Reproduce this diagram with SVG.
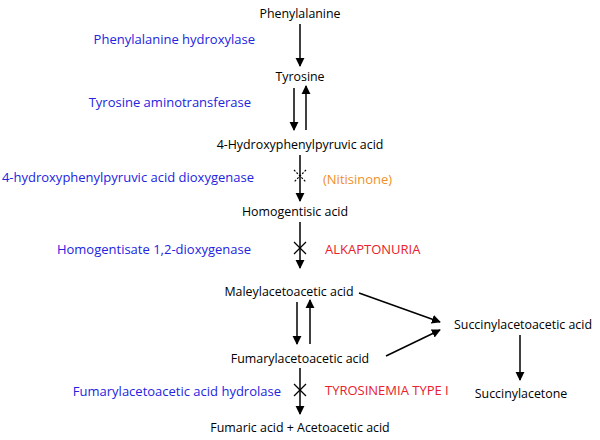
<svg xmlns="http://www.w3.org/2000/svg" width="600" height="440" viewBox="0 0 600 440">
<style>
text{font-family:"Open Sans","Liberation Sans",sans-serif;font-size:13px;fill:#000}
.c{text-anchor:middle;font-size:12.4px}
.e{fill:#2323e0;text-anchor:end}
.r{fill:#e8212b}
.o{fill:#f0902a}
.a{stroke:#000;stroke-width:1.5;fill:none;marker-end:url(#m)}
.x{stroke:#000;stroke-width:1.2}
</style>
<defs><marker id="m" viewBox="0 0 10 10" refX="9" refY="5" markerWidth="6" markerHeight="7" orient="auto" markerUnits="strokeWidth"><path d="M0,0L10,5L0,10z" fill="#000"/></marker></defs>
<rect width="600" height="440" fill="#fff"/>
<g id="connectors">
<line class="a" x1="300" y1="24" x2="300" y2="66"/>
<line class="a" x1="294" y1="88" x2="294" y2="130"/>
<line class="a" x1="306" y1="130" x2="306" y2="86"/>
<line class="a" x1="300" y1="155" x2="300" y2="201"/>
<line class="a" x1="300" y1="222" x2="300" y2="268"/>
<line class="a" x1="297" y1="302" x2="297" y2="344"/>
<line class="a" x1="310" y1="344" x2="310" y2="300"/>
<line class="a" x1="300" y1="368" x2="300" y2="414"/>
<line class="a" x1="359" y1="293" x2="440" y2="322"/>
<line class="a" x1="386" y1="356" x2="440" y2="330"/>
<line class="a" x1="520" y1="335" x2="520" y2="380"/>
<g class="x" stroke-dasharray="2,1.5"><line x1="294" y1="170" x2="306" y2="182"/><line x1="306" y1="170" x2="294" y2="182"/></g>
<g class="x"><line x1="294" y1="242" x2="306" y2="254"/><line x1="306" y1="242" x2="294" y2="254"/></g>
<g class="x"><line x1="294" y1="384" x2="306" y2="396"/><line x1="306" y1="384" x2="294" y2="396"/></g>
</g>
<g id="phe"><text class="c" x="300" y="18">Phenylalanine</text></g>
<g id="tyr"><text class="c" x="300" y="81">Tyrosine</text></g>
<g id="hpp"><text class="c" x="300" y="149">4-Hydroxyphenylpyruvic acid</text></g>
<g id="hga"><text class="c" x="295" y="216">Homogentisic acid</text></g>
<g id="maa"><text class="c" x="289" y="296">Maleylacetoacetic acid</text></g>
<g id="faa"><text class="c" x="300" y="363">Fumarylacetoacetic acid</text></g>
<g id="fum"><text class="c" x="300" y="432">Fumaric acid + Acetoacetic acid</text></g>
<g id="saa"><text class="c" x="523" y="329">Succinylacetoacetic acid</text></g>
<g id="sa"><text class="c" x="521" y="398">Succinylacetone</text></g>
<g id="enz1"><text class="e" x="255" y="44">Phenylalanine hydroxylase</text></g>
<g id="enz2"><text class="e" x="251" y="107">Tyrosine aminotransferase</text></g>
<g id="enz3"><text class="e" x="254" y="182">4-hydroxyphenylpyruvic acid dioxygenase</text></g>
<g id="enz4"><text class="e" x="251" y="254">Homogentisate 1,2-dioxygenase</text></g>
<g id="enz5"><text class="e" x="281" y="396">Fumarylacetoacetic acid hydrolase</text></g>
<g id="nit"><text class="o" x="323" y="184">(Nitisinone)</text></g>
<g id="alk"><text class="r" x="325" y="254">ALKAPTONURIA</text></g>
<g id="tyrt"><text class="r" x="325" y="395">TYROSINEMIA TYPE I</text></g>
</svg>
